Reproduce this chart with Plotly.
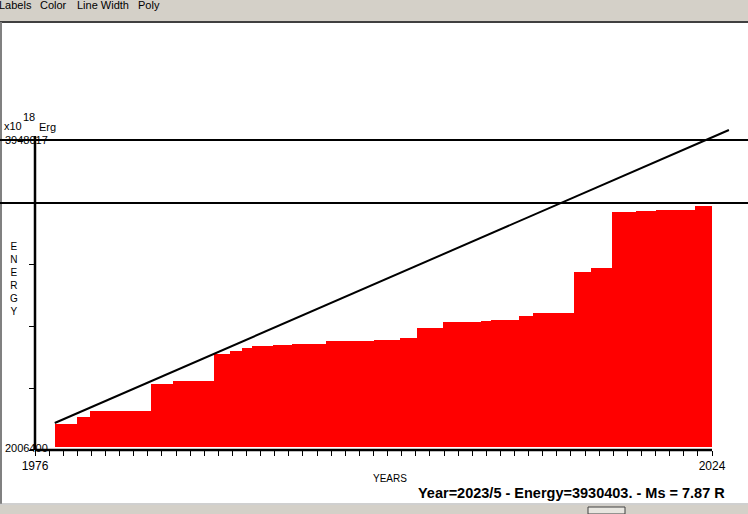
"""Cumulative energy release step chart (x10^18 Erg) by year, 1976-2024."""

import plotly.graph_objects as go

# ━━━ DATA ━━━━━━━━━━━━━━━━━━━━━━━━━━━━━━━━━━━━━━━━━━━━━━━━━━━

STEP_START = [
    1977.4, 1979.0, 1979.9, 1984.2, 1985.8, 1988.7, 1989.8, 1990.7, 1991.4,
    1992.9, 1994.2, 1996.6, 2000.0, 2001.9, 2003.1, 2004.9, 2007.6, 2008.3,
    2010.3, 2011.3, 2014.2, 2015.4, 2016.9, 2018.6, 2020.0, 2022.8,
]
STEP_END_YEAR = 2024.0
STEP_ENERGY = [
    2169000, 2213000, 2251000, 2420000, 2439000, 2608000, 2626000, 2645000,
    2658000, 2664000, 2670000, 2689000, 2695000, 2708000, 2771000, 2808000,
    2814000, 2821000, 2846000, 2864000, 3121000, 3146000, 3497000, 3503000,
    3510000, 3535000,
]

TREND_YEARS = [1977.4, 2025.2]
TREND_ENERGY = [2175500, 4010600]

Y_MIN = 2006400
Y_MAX = 3948017
LEVEL_LINE = 3553000
BAR_BASE = 2025000

X_FIRST, X_LAST = 1976, 2024
TICK_YEARS = list(range(X_FIRST, X_LAST + 1))
TICK_TEXT = [str(y) if y in (X_FIRST, X_LAST) else "" for y in TICK_YEARS]

STATUS = "Year=2023/5 - Energy=3930403. - Ms = 7.87 R"
MENU = [("Labels", 15), ("Color", 53), ("Line Width", 103), ("Poly", 149)]

# ━━━ LAYOUT GEOMETRY (pixels) ━━━━━━━━━━━━━━━━━━━━━━━━━━━━━━━

W, H = 748, 514
AX_LEFT, AX_RIGHT_YEAR_PX = 35, 712      # x px of 1976 and 2024
AX_BOTTOM, AX_TOP = 450, 140            # y px of Y_MIN and Y_MAX
PLOT_RIGHT, PLOT_TOP = 740, 125

px_per_year = (AX_RIGHT_YEAR_PX - AX_LEFT) / (X_LAST - X_FIRST)
val_per_px = (Y_MAX - Y_MIN) / (AX_BOTTOM - AX_TOP)
x_range = [X_FIRST, X_FIRST + (PLOT_RIGHT - AX_LEFT) / px_per_year]
y_range = [Y_MIN, Y_MIN + (AX_BOTTOM - PLOT_TOP) * val_per_px]


def px(x):
    return x / W


def py(y):
    return 1 - y / H


FONT = "Liberation Sans, Arial, sans-serif"


def label(text, x, y, size=11, anchor="left", yref="paper"):
    return dict(text=text, x=px(x), y=y if yref == "y" else py(y),
                xref="paper", yref=yref, xanchor=anchor, yanchor="middle",
                showarrow=False, font=dict(size=size))


def paper_line(x0, y0, x1, y1, width=2, color="black"):
    return dict(type="line", xref="paper", yref="paper",
                x0=px(x0), x1=px(x1), y0=py(y0), y1=py(y1),
                line=dict(color=color, width=width))


# ━━━ FIGURE ━━━━━━━━━━━━━━━━━━━━━━━━━━━━━━━━━━━━━━━━━━━━━━━━━

widths = [b - a for a, b in zip(STEP_START, STEP_START[1:] + [STEP_END_YEAR])]

fig = go.Figure()
fig.add_trace(go.Bar(
    x=STEP_START,
    y=[e - BAR_BASE for e in STEP_ENERGY],
    base=BAR_BASE,
    width=widths,
    offset=0,
    marker=dict(color="#ff0000", line=dict(width=0)),
    hoverinfo="skip",
))
fig.add_trace(go.Scatter(
    x=TREND_YEARS, y=TREND_ENERGY, mode="lines",
    line=dict(color="black", width=2),
))

shapes = [
    # window chrome
    dict(type="rect", xref="paper", yref="paper", x0=0, x1=1, y0=py(21), y1=1,
         fillcolor="#d4d0c8", line_width=0, layer="below"),
    paper_line(0, 22, W, 22, color="#404040"),
    paper_line(1, 22, 1, 504, color="#808080"),
    dict(type="rect", xref="paper", yref="paper", x0=0, x1=1, y0=0, y1=py(505),
         fillcolor="#d4d0c8", line_width=0, layer="below"),
    paper_line(0, 504, W, 504, width=1, color="#a0a0a0"),
    dict(type="rect", xref="paper", yref="paper", x0=px(588), x1=px(625), y0=0, y1=py(507),
         fillcolor="#e8e6e0", line=dict(color="#404040", width=1)),
    # axes (paper refs so the stroke is not clipped at the plot edge)
    paper_line(AX_LEFT, AX_BOTTOM, AX_RIGHT_YEAR_PX, AX_BOTTOM, width=2.5),
    paper_line(AX_LEFT, AX_BOTTOM, AX_LEFT, AX_TOP - 4, width=2.5),
    # horizontal reference levels across the window
    dict(type="line", xref="paper", yref="y", x0=0, x1=1, y0=Y_MAX, y1=Y_MAX,
         line=dict(color="black", width=2)),
    dict(type="line", xref="paper", yref="y", x0=0, x1=1, y0=LEVEL_LINE, y1=LEVEL_LINE,
         line=dict(color="black", width=2)),
]

annotations = [
    label("3948017", 3, Y_MAX, yref="y"),
    label("2006400", 3, Y_MIN + 2 * val_per_px, yref="y"),
    label("x10", 2, 126),
    label("18", 21, 117),
    label("Erg", 37, 127),
    label("<br>".join("ENERGY"), 14, 279, size=10, anchor="center"),
    label("YEARS", 390, 478, size=10, anchor="center"),
    label(f"<b>{STATUS}</b>", 727, 493, size=14.5, anchor="right"),
]
for text, cx in MENU:
    annotations.append(label(text, cx, 5, anchor="center"))

fig.update_layout(
    width=W, height=H,
    margin=dict(l=0, r=0, t=0, b=0, autoexpand=False),
    paper_bgcolor="white", plot_bgcolor="white",
    showlegend=False,
    font=dict(family=FONT, color="black", size=11),
    bargap=0,
    xaxis=dict(
        domain=[px(AX_LEFT), px(PLOT_RIGHT)], range=x_range,
        showgrid=False, zeroline=False, showline=False, automargin=False,
        tickmode="array", tickvals=TICK_YEARS, ticktext=TICK_TEXT,
        ticks="outside", ticklen=5, tickwidth=1, tickcolor="black",
        tickfont=dict(size=12),
    ),
    yaxis=dict(
        domain=[py(AX_BOTTOM), py(PLOT_TOP)], range=y_range,
        showgrid=False, zeroline=False, showline=False, automargin=False,
        tickmode="array", tickvals=[Y_MIN + k * (Y_MAX - Y_MIN) / 5 for k in range(6)],
        showticklabels=False,
        ticks="outside", ticklen=5, tickwidth=1, tickcolor="black",
    ),
    shapes=shapes,
    annotations=annotations,
)

# the page's default body margin would shift the whole picture by 8px
fig.write_html(
    "out.html",
    config={"displayModeBar": False},
    post_script="document.body.style.margin = '0';",
)
